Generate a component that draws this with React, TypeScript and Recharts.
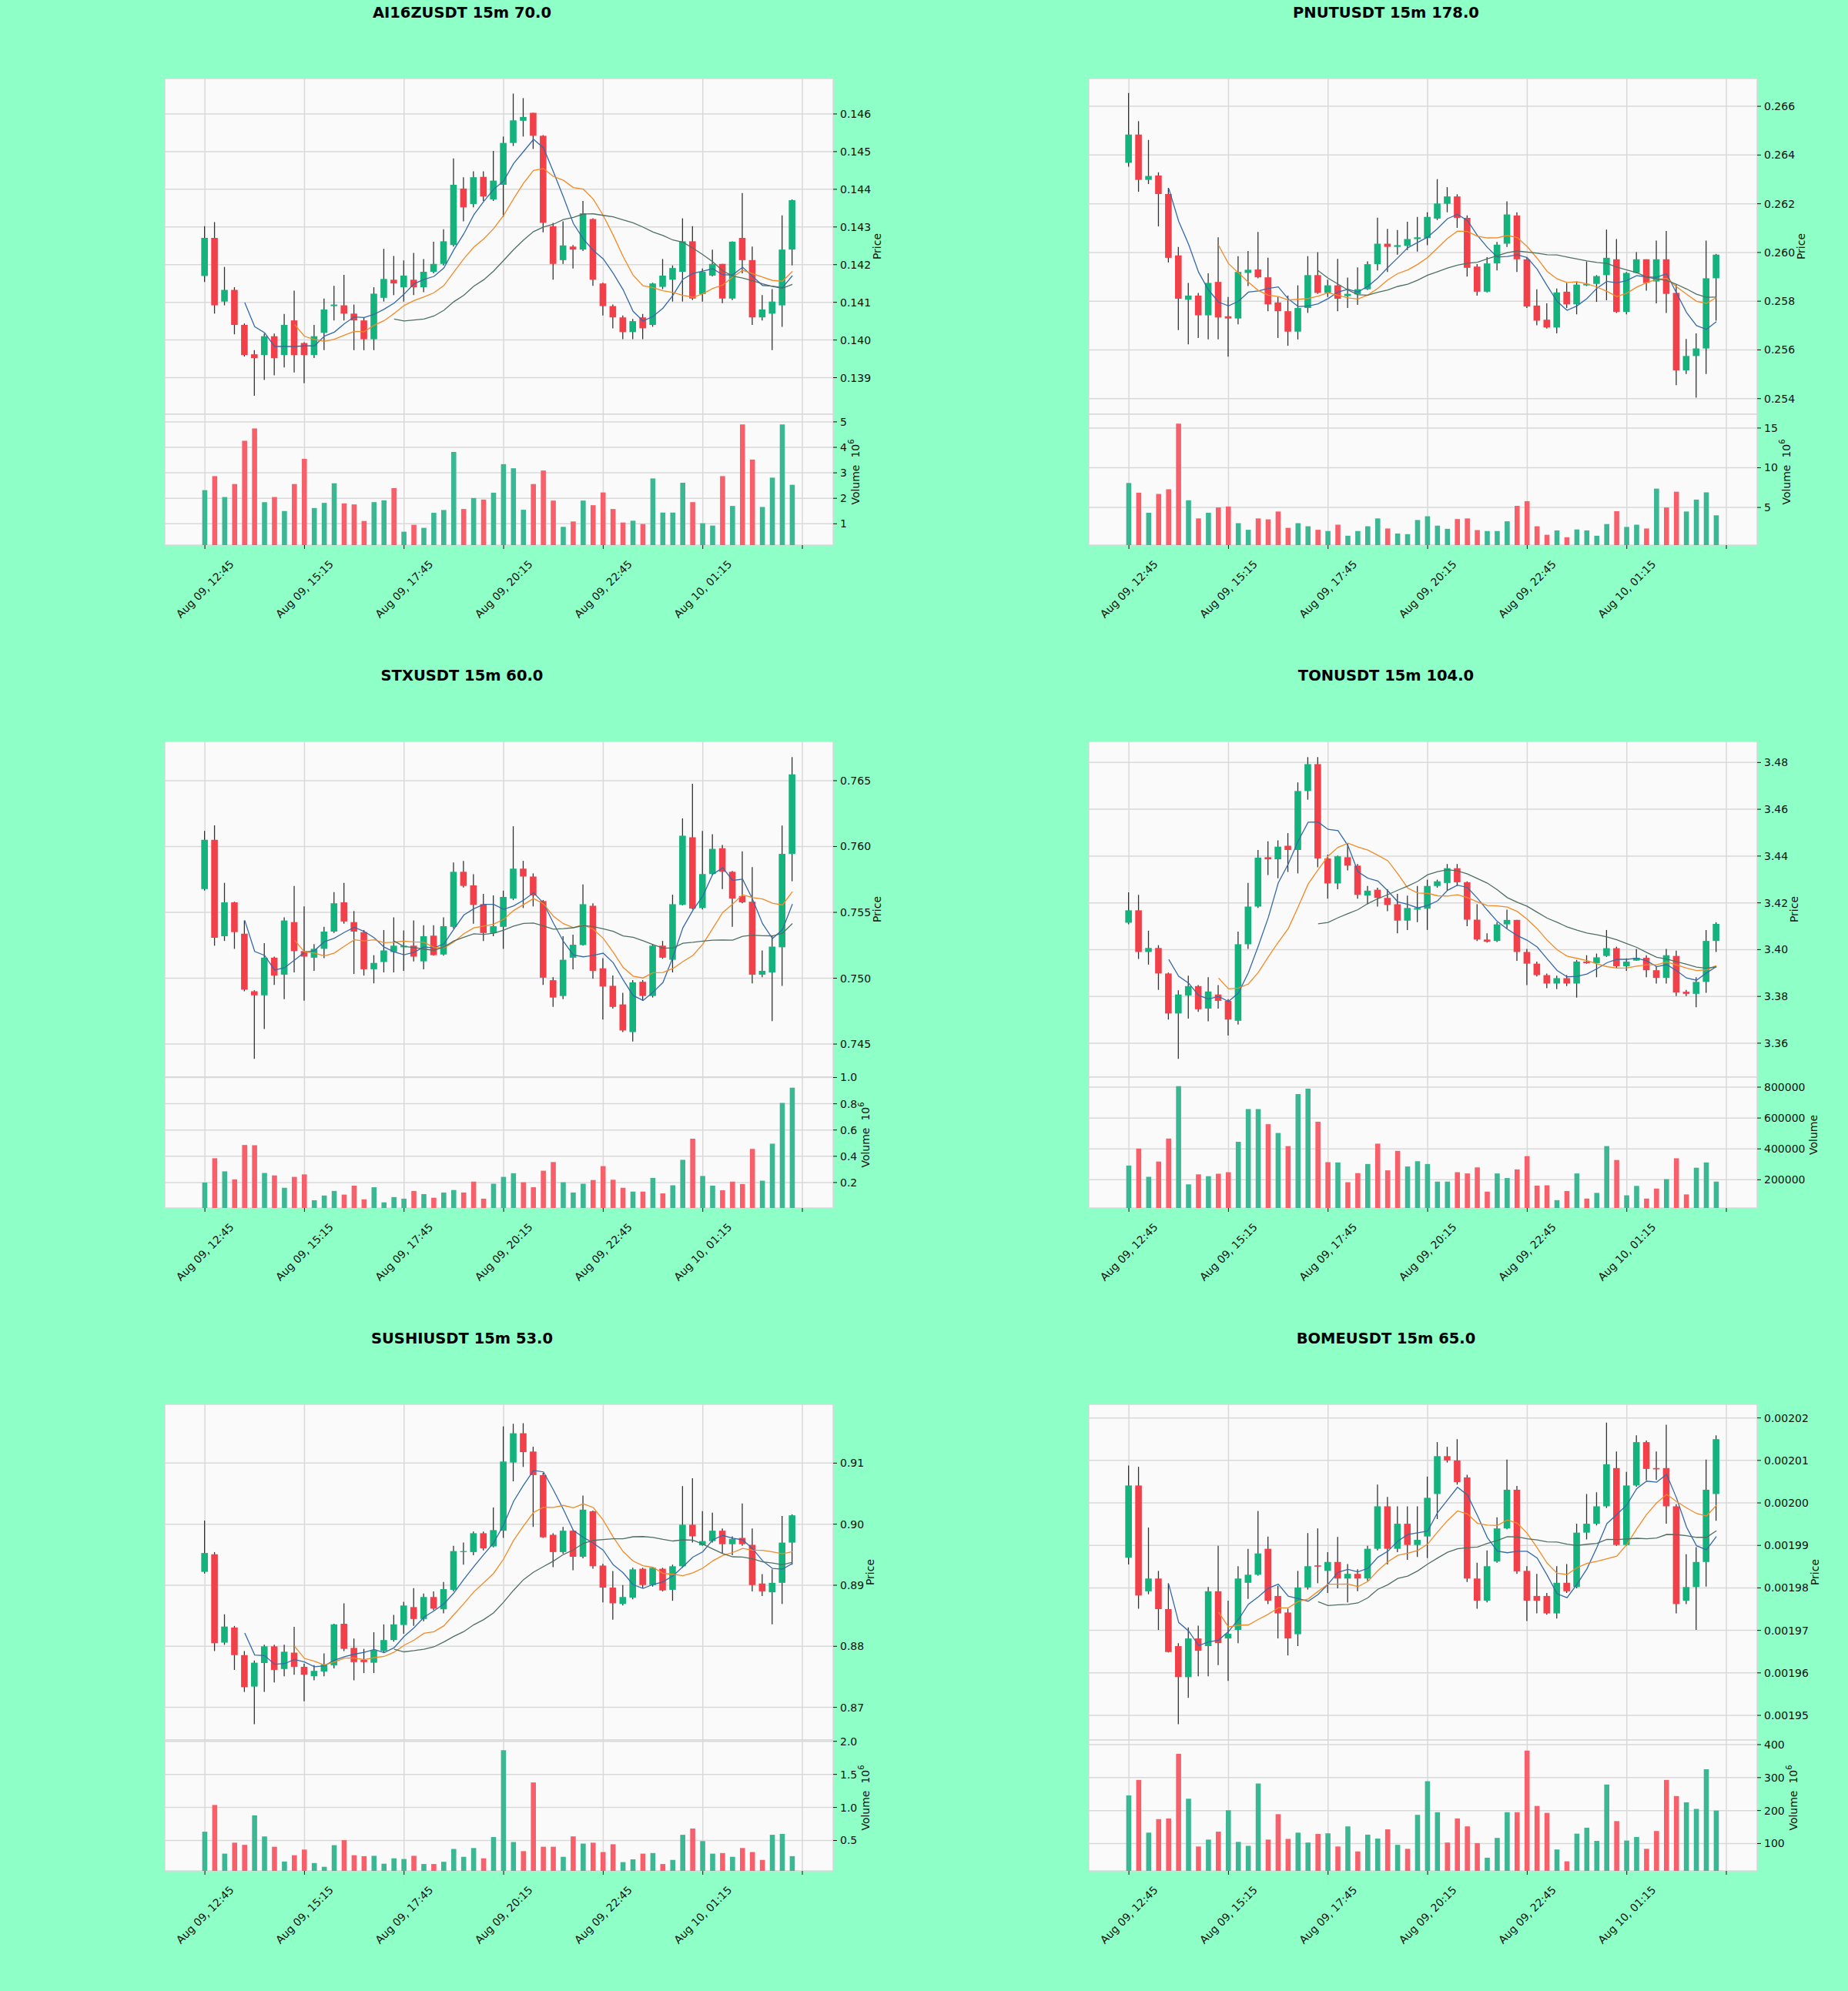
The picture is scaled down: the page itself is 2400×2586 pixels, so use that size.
import React from 'react';
import { ComposedChart, Bar, Line, XAxis, YAxis, CartesianGrid, Cell } from 'recharts';

const FONT = '"DejaVu Sans", sans-serif';
const BG = '#8effc6';
const PLOT_BG = '#fafafa';
const GRID = '#d9d9d9';
const UP = '#14b27c';
const DOWN = '#f2404a';
const VOL_UP = '#3bb893';
const VOL_DOWN = '#f7606b';
const WICK = '#333333';
const MA_PERIODS = [5, 10, 20];
const MA_COLORS = ['#3569a8', '#f28a26', '#4f6f63'];

// x axis: candle index, one tick every 10 candles (150 min)
const xTicks = [0, 10, 20, 30, 40, 50, 60];
const xTickLabels = ['Aug 09, 12:45', 'Aug 09, 15:15', 'Aug 09, 17:45', 'Aug 09, 20:15', 'Aug 09, 22:45', 'Aug 10, 01:15', ''];

// [open, high, low, close]
const ai16zOhlc = [
  [0.14170, 0.14302, 0.14154, 0.14271], [0.14271, 0.14313, 0.14070, 0.14092], [0.14102, 0.14194, 0.14092, 0.14133],
  [0.14133, 0.14140, 0.14015, 0.14040], [0.14040, 0.14044, 0.13956, 0.13960], [0.13962, 0.13973, 0.13852, 0.13952],
  [0.13960, 0.14017, 0.13894, 0.14010], [0.14010, 0.14017, 0.13906, 0.13952], [0.13960, 0.14069, 0.13927, 0.14040],
  [0.14052, 0.14131, 0.13914, 0.13960], [0.13992, 0.13994, 0.13885, 0.13960], [0.13960, 0.14040, 0.13952, 0.14010],
  [0.14019, 0.14110, 0.13973, 0.14081], [0.14090, 0.14144, 0.14052, 0.14094], [0.14092, 0.14173, 0.14052, 0.14070],
  [0.14070, 0.14094, 0.13973, 0.14052], [0.14052, 0.14060, 0.13973, 0.14002], [0.14002, 0.14140, 0.13973, 0.14123],
  [0.14112, 0.14242, 0.14102, 0.14162], [0.14160, 0.14223, 0.14119, 0.14150], [0.14140, 0.14211, 0.14102, 0.14171],
  [0.14160, 0.14231, 0.14119, 0.14140], [0.14140, 0.14215, 0.14127, 0.14181], [0.14181, 0.14261, 0.14177, 0.14202],
  [0.14202, 0.14294, 0.14198, 0.14262], [0.14252, 0.14482, 0.14248, 0.14412], [0.14402, 0.14432, 0.14315, 0.14352],
  [0.14361, 0.14448, 0.14352, 0.14432], [0.14433, 0.14448, 0.14369, 0.14381], [0.14373, 0.14502, 0.14369, 0.14423],
  [0.14412, 0.14540, 0.14327, 0.14523], [0.14523, 0.14654, 0.14515, 0.14583], [0.14582, 0.14642, 0.14540, 0.14592],
  [0.14603, 0.14603, 0.14507, 0.14542], [0.14542, 0.14544, 0.14286, 0.14311], [0.14302, 0.14311, 0.14160, 0.14202],
  [0.14212, 0.14315, 0.14202, 0.14251], [0.14248, 0.14252, 0.14190, 0.14240], [0.14240, 0.14369, 0.14236, 0.14336],
  [0.14321, 0.14323, 0.14144, 0.14160], [0.14150, 0.14152, 0.14065, 0.14090], [0.14090, 0.14094, 0.14031, 0.14060],
  [0.14060, 0.14065, 0.14002, 0.14021], [0.14021, 0.14056, 0.14002, 0.14050], [0.14060, 0.14069, 0.14002, 0.14031],
  [0.14040, 0.14152, 0.14035, 0.14150], [0.14141, 0.14215, 0.14135, 0.14171], [0.14160, 0.14198, 0.14102, 0.14191],
  [0.14181, 0.14323, 0.14102, 0.14262], [0.14262, 0.14302, 0.14106, 0.14110], [0.14122, 0.14190, 0.14102, 0.14181],
  [0.14171, 0.14240, 0.14169, 0.14202], [0.14202, 0.14202, 0.14098, 0.14110], [0.14110, 0.14262, 0.14106, 0.14261],
  [0.14271, 0.14390, 0.14177, 0.14212], [0.14212, 0.14248, 0.14040, 0.14060], [0.14060, 0.14119, 0.14052, 0.14081],
  [0.14070, 0.14135, 0.13973, 0.14102], [0.14092, 0.14331, 0.14035, 0.14240], [0.14240, 0.14373, 0.14198, 0.14371],
];
const ai16zVolume = [
  2.32, 2.87, 2.05, 2.56, 4.26, 4.74, 1.85, 2.05, 1.50, 2.56, 3.55, 1.62, 1.82, 2.59, 1.80, 1.76, 1.11, 1.85, 1.92, 2.40,
  0.69, 0.96, 0.84, 1.43, 1.54, 3.82, 1.58, 2.01, 1.95, 2.22, 3.34, 3.18, 1.55, 2.56, 3.09, 1.91, 0.88, 1.09, 1.91, 1.73,
  2.23, 1.58, 1.05, 1.12, 0.99, 2.78, 1.44, 1.44, 2.61, 1.85, 1.02, 0.93, 2.87, 1.70, 4.90, 3.52, 1.66, 2.81, 4.90, 2.53,
];
const ai16zPriceTicks = [0.139, 0.140, 0.141, 0.142, 0.143, 0.144, 0.145, 0.146];
const ai16zVolumeTicks = [1, 2, 3, 4, 5];

const pnutOhlc = [
  [0.26368, 0.26655, 0.26352, 0.26484], [0.26484, 0.26539, 0.26249, 0.26298], [0.26298, 0.26462, 0.26281, 0.26314],
  [0.26316, 0.26329, 0.26107, 0.26240], [0.26240, 0.26265, 0.25959, 0.25978], [0.25988, 0.26023, 0.25681, 0.25810],
  [0.25806, 0.25875, 0.25623, 0.25823], [0.25823, 0.25834, 0.25649, 0.25742], [0.25742, 0.25914, 0.25643, 0.25875],
  [0.25879, 0.26062, 0.25643, 0.25733], [0.25738, 0.25817, 0.25572, 0.25729], [0.25729, 0.25985, 0.25705, 0.25920],
  [0.25916, 0.26006, 0.25862, 0.25929], [0.25930, 0.26084, 0.25894, 0.25898], [0.25898, 0.25978, 0.25759, 0.25787],
  [0.25795, 0.25817, 0.25649, 0.25759], [0.25759, 0.25823, 0.25617, 0.25675], [0.25675, 0.25865, 0.25643, 0.25772],
  [0.25772, 0.25985, 0.25752, 0.25907], [0.25907, 0.26001, 0.25830, 0.25834], [0.25834, 0.25888, 0.25817, 0.25865],
  [0.25865, 0.25974, 0.25759, 0.25810], [0.25821, 0.25897, 0.25772, 0.25830], [0.25828, 0.25939, 0.25785, 0.25849],
  [0.25849, 0.25963, 0.25846, 0.25952], [0.25952, 0.26143, 0.25926, 0.26036], [0.26036, 0.26097, 0.25920, 0.26023],
  [0.26023, 0.26092, 0.25991, 0.26030], [0.26027, 0.26126, 0.26010, 0.26055], [0.26055, 0.26146, 0.26004, 0.26062],
  [0.26059, 0.26165, 0.26030, 0.26146], [0.26139, 0.26301, 0.26133, 0.26201], [0.26200, 0.26268, 0.26165, 0.26230],
  [0.26230, 0.26239, 0.26101, 0.26142], [0.26142, 0.26152, 0.25901, 0.25937], [0.25942, 0.25952, 0.25823, 0.25839],
  [0.25839, 0.25981, 0.25836, 0.25955], [0.25955, 0.26043, 0.25926, 0.26032], [0.26036, 0.26210, 0.26023, 0.26156],
  [0.26152, 0.26165, 0.25920, 0.25972], [0.25972, 0.25981, 0.25772, 0.25778], [0.25782, 0.25849, 0.25701, 0.25720],
  [0.25724, 0.25791, 0.25688, 0.25692], [0.25692, 0.25852, 0.25668, 0.25836], [0.25839, 0.25875, 0.25772, 0.25787],
  [0.25787, 0.25881, 0.25746, 0.25868], [0.25865, 0.25963, 0.25862, 0.25871], [0.25871, 0.25907, 0.25797, 0.25903],
  [0.25907, 0.26094, 0.25804, 0.25978], [0.25972, 0.26055, 0.25752, 0.25756], [0.25756, 0.25920, 0.25746, 0.25916],
  [0.25916, 0.26001, 0.25914, 0.25972], [0.25972, 0.25972, 0.25843, 0.25875], [0.25881, 0.26049, 0.25791, 0.25972],
  [0.25972, 0.26088, 0.25752, 0.25830], [0.25834, 0.25868, 0.25455, 0.25516], [0.25516, 0.25645, 0.25501, 0.25575],
  [0.25575, 0.25668, 0.25404, 0.25606], [0.25606, 0.26049, 0.25501, 0.25894], [0.25894, 0.25994, 0.25720, 0.25991],
];
const pnutVolume = [
  8.08, 6.86, 4.33, 6.70, 7.29, 15.55, 5.91, 3.62, 4.33, 5.00, 5.12, 3.02, 2.19, 3.62, 3.50, 4.49, 2.43, 3.02, 2.63, 2.19,
  2.03, 2.83, 1.44, 2.03, 2.63, 3.62, 2.35, 1.72, 1.64, 3.42, 3.89, 2.71, 2.31, 3.54, 3.62, 2.15, 2.03, 2.03, 3.26, 5.20,
  5.79, 2.63, 1.56, 2.11, 1.25, 2.23, 2.11, 1.44, 2.91, 4.53, 2.55, 2.83, 2.35, 7.37, 5.00, 6.98, 4.49, 5.99, 6.90, 4.01,
];
const pnutPriceTicks = [0.254, 0.256, 0.258, 0.260, 0.262, 0.264, 0.266];
const pnutVolumeTicks = [5, 10, 15];

const stxOhlc = [
  [0.75677, 0.76118, 0.75665, 0.76051], [0.76051, 0.76161, 0.75247, 0.75307], [0.75319, 0.75724, 0.75283, 0.75576],
  [0.75576, 0.75581, 0.75223, 0.75350], [0.75338, 0.75438, 0.74901, 0.74913], [0.74901, 0.74908, 0.74388, 0.74870],
  [0.74870, 0.75266, 0.74615, 0.75156], [0.75156, 0.75164, 0.74949, 0.75020], [0.75027, 0.75462, 0.74841, 0.75438],
  [0.75426, 0.75701, 0.75044, 0.75206], [0.75206, 0.75545, 0.74829, 0.75164], [0.75156, 0.75259, 0.75056, 0.75223],
  [0.75223, 0.75390, 0.75152, 0.75354], [0.75354, 0.75653, 0.75343, 0.75569], [0.75576, 0.75724, 0.75414, 0.75431],
  [0.75426, 0.75510, 0.75032, 0.75354], [0.75350, 0.75366, 0.75020, 0.75068], [0.75068, 0.75175, 0.74961, 0.75116],
  [0.75123, 0.75366, 0.75044, 0.75211], [0.75199, 0.75462, 0.75044, 0.75247], [0.75235, 0.75362, 0.75056, 0.75247],
  [0.75247, 0.75438, 0.75128, 0.75164], [0.75128, 0.75402, 0.75068, 0.75319], [0.75323, 0.75402, 0.75171, 0.75175],
  [0.75180, 0.75462, 0.75171, 0.75395], [0.75390, 0.75879, 0.75378, 0.75808], [0.75808, 0.75891, 0.75689, 0.75701],
  [0.75705, 0.75789, 0.75414, 0.75557], [0.75562, 0.75641, 0.75283, 0.75343], [0.75343, 0.75629, 0.75319, 0.75395],
  [0.75390, 0.75665, 0.75223, 0.75617], [0.75605, 0.76154, 0.75593, 0.75832], [0.75832, 0.75891, 0.75533, 0.75772],
  [0.75772, 0.75796, 0.75545, 0.75629], [0.75586, 0.75593, 0.74949, 0.75004], [0.74985, 0.75008, 0.74782, 0.74853],
  [0.74865, 0.75319, 0.74841, 0.75140], [0.75156, 0.75331, 0.75068, 0.75254], [0.75252, 0.75712, 0.75247, 0.75562],
  [0.75550, 0.75569, 0.74996, 0.75056], [0.75075, 0.75152, 0.74686, 0.74937], [0.74942, 0.75020, 0.74770, 0.74782],
  [0.74801, 0.74889, 0.74591, 0.74603], [0.74591, 0.74985, 0.74519, 0.74968], [0.74973, 0.74985, 0.74829, 0.74865],
  [0.74865, 0.75259, 0.74853, 0.75247], [0.75247, 0.75283, 0.75147, 0.75156], [0.75140, 0.75634, 0.75044, 0.75562],
  [0.75557, 0.76214, 0.75553, 0.76082], [0.76070, 0.76476, 0.75522, 0.75529], [0.75533, 0.76118, 0.75522, 0.75791],
  [0.75791, 0.76094, 0.75784, 0.75982], [0.75987, 0.76011, 0.75677, 0.75808], [0.75808, 0.75815, 0.75390, 0.75605],
  [0.75624, 0.75963, 0.75569, 0.75576], [0.75581, 0.75844, 0.74961, 0.75027], [0.75027, 0.75211, 0.75008, 0.75056],
  [0.75044, 0.75319, 0.74674, 0.75240], [0.75235, 0.76159, 0.74942, 0.75944], [0.75944, 0.76679, 0.75736, 0.76548],
];
const stxVolume = [
  0.200, 0.385, 0.285, 0.224, 0.486, 0.484, 0.273, 0.254, 0.160, 0.243, 0.262, 0.065, 0.101, 0.136, 0.108, 0.176, 0.072,
  0.164, 0.049, 0.089, 0.077, 0.136, 0.112, 0.084, 0.124, 0.143, 0.124, 0.207, 0.077, 0.191, 0.243, 0.271, 0.202, 0.164,
  0.290, 0.356, 0.202, 0.124, 0.191, 0.219, 0.325, 0.221, 0.160, 0.131, 0.131, 0.235, 0.117, 0.179, 0.373, 0.534, 0.250,
  0.176, 0.141, 0.207, 0.188, 0.456, 0.214, 0.496, 0.806, 0.922,
];
const stxPriceTicks = [0.745, 0.750, 0.755, 0.760, 0.765];
const stxVolumeTicks = [0.2, 0.4, 0.6, 0.8, 1.0];

const tonOhlc = [
  [3.4115, 3.4245, 3.4108, 3.4168], [3.4168, 3.4234, 3.3960, 3.3990], [3.3990, 3.4081, 3.3936, 3.4007],
  [3.4007, 3.4019, 3.3828, 3.3898], [3.3898, 3.3902, 3.3701, 3.3727], [3.3727, 3.3826, 3.3533, 3.3808],
  [3.3804, 3.3889, 3.3705, 3.3844], [3.3844, 3.3848, 3.3734, 3.3745], [3.3748, 3.3882, 3.3694, 3.3821],
  [3.3808, 3.3848, 3.3748, 3.3781], [3.3781, 3.3788, 3.3633, 3.3701], [3.3696, 3.4077, 3.3680, 3.4023],
  [3.4023, 3.4285, 3.4003, 3.4184], [3.4184, 3.4426, 3.4178, 3.4393], [3.4395, 3.4463, 3.4319, 3.4386],
  [3.4386, 3.4467, 3.4305, 3.4440], [3.4444, 3.4498, 3.4332, 3.4426], [3.4426, 3.4715, 3.4326, 3.4678],
  [3.4678, 3.4823, 3.4641, 3.4793], [3.4793, 3.4823, 3.4352, 3.4390], [3.4390, 3.4406, 3.4218, 3.4283],
  [3.4283, 3.4402, 3.4258, 3.4399], [3.4395, 3.4453, 3.4339, 3.4359], [3.4359, 3.4366, 3.4218, 3.4234],
  [3.4231, 3.4272, 3.4194, 3.4252], [3.4256, 3.4265, 3.4184, 3.4221], [3.4221, 3.4258, 3.4164, 3.4191],
  [3.4194, 3.4238, 3.4070, 3.4124], [3.4124, 3.4231, 3.4084, 3.4178], [3.4171, 3.4272, 3.4117, 3.4178],
  [3.4175, 3.4299, 3.4084, 3.4272], [3.4272, 3.4299, 3.4265, 3.4292], [3.4285, 3.4366, 3.4252, 3.4348],
  [3.4348, 3.4366, 3.4272, 3.4288], [3.4288, 3.4292, 3.4100, 3.4128], [3.4128, 3.4194, 3.4037, 3.4043],
  [3.4043, 3.4070, 3.4030, 3.4034], [3.4037, 3.4117, 3.4033, 3.4108], [3.4108, 3.4171, 3.4090, 3.4127],
  [3.4127, 3.4127, 3.3952, 3.3990], [3.3990, 3.4003, 3.3848, 3.3940], [3.3940, 3.3949, 3.3885, 3.3891],
  [3.3891, 3.3898, 3.3835, 3.3855], [3.3855, 3.3889, 3.3831, 3.3878], [3.3878, 3.3891, 3.3844, 3.3855],
  [3.3855, 3.3956, 3.3795, 3.3949], [3.3949, 3.3976, 3.3940, 3.3942], [3.3942, 3.3983, 3.3882, 3.3967],
  [3.3973, 3.4084, 3.3969, 3.4006], [3.4006, 3.4012, 3.3922, 3.3929], [3.3929, 3.3963, 3.3909, 3.3949],
  [3.3953, 3.4003, 3.3952, 3.3965], [3.3965, 3.3976, 3.3882, 3.3912], [3.3912, 3.3929, 3.3855, 3.3879],
  [3.3879, 3.4003, 3.3855, 3.3976], [3.3973, 3.3996, 3.3801, 3.3817], [3.3820, 3.3828, 3.3801, 3.3811],
  [3.3811, 3.3882, 3.3754, 3.3862], [3.3862, 3.4084, 3.3815, 3.4037], [3.4037, 3.4117, 3.3990, 3.4110],
];
const tonVolume = [
  292000, 402000, 219000, 318000, 467000, 806000, 170000, 235000, 223000, 239000, 249000, 446000, 658000, 658000, 560000,
  503000, 418000, 755000, 790000, 576000, 314000, 312000, 184000, 243000, 302000, 434000, 261000, 387000, 286000, 320000,
  302000, 188000, 188000, 249000, 241000, 280000, 123000, 241000, 211000, 267000, 353000, 162000, 164000, 68000, 127000,
  241000, 78000, 115000, 418000, 328000, 99000, 160000, 78000, 143000, 204000, 339000, 105000, 278000, 312000, 188000,
];
const tonPriceTicks = [3.36, 3.38, 3.40, 3.42, 3.44, 3.46, 3.48];
const tonVolumeTicks = [200000, 400000, 600000, 800000];

const sushiOhlc = [
  [0.89219, 0.90058, 0.89193, 0.89528], [0.89507, 0.89543, 0.87922, 0.88050], [0.88060, 0.88524, 0.88024, 0.88323],
  [0.88308, 0.88333, 0.87613, 0.87855], [0.87855, 0.87922, 0.87252, 0.87330], [0.87340, 0.87767, 0.86722, 0.87731],
  [0.87726, 0.88024, 0.87252, 0.87999], [0.87999, 0.88024, 0.87407, 0.87613], [0.87628, 0.88024, 0.87510, 0.87911],
  [0.87896, 0.88318, 0.87535, 0.87664], [0.87664, 0.87716, 0.87098, 0.87535], [0.87510, 0.87690, 0.87443, 0.87597],
  [0.87587, 0.87885, 0.87510, 0.87700], [0.87690, 0.88369, 0.87638, 0.88359], [0.88369, 0.88704, 0.87922, 0.87958],
  [0.87973, 0.88127, 0.87443, 0.87741], [0.87777, 0.87958, 0.87561, 0.87741], [0.87731, 0.88230, 0.87561, 0.87937],
  [0.87922, 0.88359, 0.87896, 0.88102], [0.88102, 0.88514, 0.88076, 0.88359], [0.88349, 0.88730, 0.88205, 0.88668],
  [0.88642, 0.88951, 0.88333, 0.88447], [0.88447, 0.88864, 0.88411, 0.88807], [0.88807, 0.88900, 0.88591, 0.88617],
  [0.88606, 0.89054, 0.88539, 0.88936], [0.88925, 0.89646, 0.88900, 0.89559], [0.89543, 0.89698, 0.89337, 0.89559],
  [0.89543, 0.89878, 0.89492, 0.89852], [0.89852, 0.89878, 0.89569, 0.89605], [0.89636, 0.90274, 0.89620, 0.89903],
  [0.89893, 0.91602, 0.89775, 0.91026], [0.91010, 0.91644, 0.90701, 0.91489], [0.91489, 0.91654, 0.90938, 0.91180],
  [0.91190, 0.91268, 0.89955, 0.90804], [0.90804, 0.90840, 0.89775, 0.89785], [0.89826, 0.89852, 0.89296, 0.89543],
  [0.89543, 0.89955, 0.89517, 0.89893], [0.89893, 0.89903, 0.89245, 0.89466], [0.89466, 0.90470, 0.89440, 0.90238],
  [0.90212, 0.90223, 0.89270, 0.89311], [0.89322, 0.89348, 0.88719, 0.88961], [0.88961, 0.89234, 0.88436, 0.88704],
  [0.88694, 0.89003, 0.88668, 0.88807], [0.88797, 0.89286, 0.88771, 0.89260], [0.89270, 0.89286, 0.88951, 0.89003],
  [0.89003, 0.89296, 0.88977, 0.89286], [0.89270, 0.89286, 0.88900, 0.88915], [0.88925, 0.89337, 0.88745, 0.89311],
  [0.89311, 0.90624, 0.89286, 0.89991], [0.89991, 0.90753, 0.89698, 0.89801], [0.89656, 0.90212, 0.89646, 0.89723],
  [0.89723, 0.90187, 0.89698, 0.89893], [0.89893, 0.89929, 0.89517, 0.89672], [0.89672, 0.89801, 0.89492, 0.89759],
  [0.89775, 0.90341, 0.89646, 0.89672], [0.89662, 0.89929, 0.88900, 0.89003], [0.89028, 0.89183, 0.88822, 0.88900],
  [0.88884, 0.89260, 0.88359, 0.89039], [0.89039, 0.90135, 0.88694, 0.89698], [0.89698, 0.90161, 0.89337, 0.90145],
];
const sushiVolume = [
  0.633, 1.037, 0.301, 0.467, 0.434, 0.880, 0.562, 0.405, 0.182, 0.277, 0.363, 0.159, 0.102, 0.429, 0.505, 0.277, 0.263,
  0.268, 0.149, 0.230, 0.220, 0.268, 0.144, 0.144, 0.178, 0.372, 0.253, 0.386, 0.230, 0.552, 1.867, 0.477, 0.339, 1.378,
  0.405, 0.405, 0.253, 0.562, 0.453, 0.467, 0.325, 0.443, 0.173, 0.215, 0.301, 0.310, 0.144, 0.206, 0.586, 0.681, 0.491,
  0.301, 0.310, 0.253, 0.386, 0.325, 0.206, 0.586, 0.600, 0.263,
];
const sushiPriceTicks = [0.87, 0.88, 0.89, 0.90, 0.91];
const sushiVolumeTicks = [0.5, 1.0, 1.5, 2.0];

const bomeOhlc = [
  [0.0019871, 0.0020088, 0.0019855, 0.0020041], [0.0020041, 0.0020085, 0.0019751, 0.0019782], [0.0019792, 0.0019942, 0.0019785, 0.0019822],
  [0.0019822, 0.0019840, 0.0019701, 0.0019750], [0.0019750, 0.0019811, 0.0019648, 0.0019649], [0.0019663, 0.0019670, 0.0019479, 0.0019590],
  [0.0019590, 0.0019707, 0.0019541, 0.0019681], [0.0019681, 0.0019711, 0.0019592, 0.0019652], [0.0019663, 0.0019802, 0.0019592, 0.0019792],
  [0.0019792, 0.0019899, 0.0019618, 0.0019670], [0.0019681, 0.0019770, 0.0019581, 0.0019692], [0.0019701, 0.0019851, 0.0019670, 0.0019822],
  [0.0019812, 0.0019892, 0.0019774, 0.0019831], [0.0019831, 0.0019981, 0.0019829, 0.0019881], [0.0019892, 0.0019921, 0.0019762, 0.0019770],
  [0.0019781, 0.0019805, 0.0019681, 0.0019740], [0.0019742, 0.0019751, 0.0019641, 0.0019681], [0.0019691, 0.0019840, 0.0019663, 0.0019801],
  [0.0019801, 0.0019929, 0.0019796, 0.0019851], [0.0019853, 0.0019940, 0.0019811, 0.0019850], [0.0019840, 0.0019884, 0.0019788, 0.0019861],
  [0.0019861, 0.0019920, 0.0019799, 0.0019822], [0.0019822, 0.0019856, 0.0019766, 0.0019833], [0.0019833, 0.0019844, 0.0019792, 0.0019822],
  [0.0019822, 0.0019899, 0.0019816, 0.0019892], [0.0019892, 0.0020043, 0.0019888, 0.0019992], [0.0019992, 0.0020014, 0.0019855, 0.0019892],
  [0.0019892, 0.0019992, 0.0019884, 0.0019951], [0.0019951, 0.0019992, 0.0019866, 0.0019901], [0.0019901, 0.0019992, 0.0019873, 0.0019913],
  [0.0019921, 0.0020062, 0.0019870, 0.0020012], [0.0020021, 0.0020143, 0.0019962, 0.0020110], [0.0020110, 0.0020132, 0.0020095, 0.0020100],
  [0.0020100, 0.0020150, 0.0020043, 0.0020049], [0.0020060, 0.0020066, 0.0019814, 0.0019822], [0.0019822, 0.0019859, 0.0019751, 0.0019770],
  [0.0019770, 0.0019888, 0.0019766, 0.0019851], [0.0019862, 0.0019966, 0.0019859, 0.0019940], [0.0019940, 0.0020102, 0.0019938, 0.0020031],
  [0.0020031, 0.0020040, 0.0019833, 0.0019839], [0.0019840, 0.0019851, 0.0019722, 0.0019770], [0.0019781, 0.0019833, 0.0019740, 0.0019770],
  [0.0019781, 0.0019788, 0.0019737, 0.0019740], [0.0019740, 0.0019851, 0.0019728, 0.0019812], [0.0019812, 0.0019856, 0.0019788, 0.0019792],
  [0.0019802, 0.0019951, 0.0019799, 0.0019930], [0.0019930, 0.0020021, 0.0019914, 0.0019951], [0.0019951, 0.0020025, 0.0019947, 0.0019992],
  [0.0019992, 0.0020189, 0.0019988, 0.0020091], [0.0020082, 0.0020121, 0.0019899, 0.0019901], [0.0019901, 0.0020073, 0.0019899, 0.0020041],
  [0.0020041, 0.0020159, 0.0020038, 0.0020143], [0.0020143, 0.0020147, 0.0020053, 0.0020080], [0.0020082, 0.0020121, 0.0020054, 0.0020079],
  [0.0020082, 0.0020184, 0.0019951, 0.0019992], [0.0019992, 0.0019997, 0.0019740, 0.0019762], [0.0019770, 0.0019879, 0.0019762, 0.0019802],
  [0.0019802, 0.0019896, 0.0019701, 0.0019861], [0.0019861, 0.0020102, 0.0019803, 0.0020031], [0.0020021, 0.0020159, 0.0019958, 0.0020150],
];
const bomeVolume = [
  246, 293, 133, 174, 176, 372, 236, 91, 112, 136, 201, 105, 93, 282, 112, 189, 114, 133, 103, 129,
  131, 91, 152, 76, 127, 115, 143, 96, 84, 187, 289, 195, 103, 176, 152, 101, 57, 117, 195, 195,
  382, 214, 193, 82, 46, 130, 148, 108, 279, 168, 109, 120, 84, 138, 293, 244, 225, 205, 325, 200,
];
const bomePriceTicks = [0.00195, 0.00196, 0.00197, 0.00198, 0.00199, 0.00200, 0.00201, 0.00202];
const bomeVolumeTicks = [100, 200, 300, 400];

type PanelSpec = {
  title: string;
  ohlc: number[][];
  volume: number[];
  priceTicks: number[];
  priceDomain: [number, number];
  priceDigits: number;
  volumeTicks: number[];
  volumeDomain: [number, number];
  volumeDigits: number;
  volumeLabel: string;
  volumeExp: string;
};

const panels: PanelSpec[] = [
  { title: 'AI16ZUSDT 15m 70.0', ohlc: ai16zOhlc, volume: ai16zVolume, priceTicks: ai16zPriceTicks, priceDomain: [0.13803, 0.14694], priceDigits: 3, volumeTicks: ai16zVolumeTicks, volumeDomain: [0.163, 5.3], volumeDigits: 0, volumeLabel: 'Volume', volumeExp: '6' },
  { title: 'PNUTUSDT 15m 178.0', ohlc: pnutOhlc, volume: pnutVolume, priceTicks: pnutPriceTicks, priceDomain: [0.25336, 0.26714], priceDigits: 3, volumeTicks: pnutVolumeTicks, volumeDomain: [0.26, 16.74], volumeDigits: 0, volumeLabel: 'Volume', volumeExp: '6' },
  { title: 'STXUSDT 15m 60.0', ohlc: stxOhlc, volume: stxVolume, priceTicks: stxPriceTicks, priceDomain: [0.74249, 0.76798], priceDigits: 3, volumeTicks: stxVolumeTicks, volumeDomain: [0.006, 1.003], volumeDigits: 1, volumeLabel: 'Volume', volumeExp: '6' },
  { title: 'TONUSDT 15m 104.0', ohlc: tonOhlc, volume: tonVolume, priceTicks: tonPriceTicks, priceDomain: [3.3455, 3.489], priceDigits: 2, volumeTicks: tonVolumeTicks, volumeDomain: [17000, 865000], volumeDigits: 0, volumeLabel: 'Volume', volumeExp: '' },
  { title: 'SUSHIUSDT 15m 53.0', ohlc: sushiOhlc, volume: sushiVolume, priceTicks: sushiPriceTicks, priceDomain: [0.86465, 0.91963], priceDigits: 2, volumeTicks: sushiVolumeTicks, volumeDomain: [0.04, 2.02], volumeDigits: 1, volumeLabel: 'Volume', volumeExp: '6' },
  { title: 'BOMEUSDT 15m 65.0', ohlc: bomeOhlc, volume: bomeVolume, priceTicks: bomePriceTicks, priceDomain: [0.0019442, 0.0020232], priceDigits: 5, volumeTicks: bomeVolumeTicks, volumeDomain: [17, 414], volumeDigits: 0, volumeLabel: 'Volume', volumeExp: '6' },
];

// layout
const X_DOMAIN: [number, number] = [-4.03, 63.09];
const PLOT_LEFT = 214;
const COL_STEP = 1200;
const ROW_TOP = 102;
const ROW_STEP = 861;
const PLOT_W = 868;
const PRICE_H = 436;
const VOL_H = 170;
const VOL_PAD = 14; // room above the volume panel for its top tick label
const AXIS_W = 170;
const XAXIS_H = 110;

const tickStyle = { fill: '#111', fontSize: 14, fontFamily: FONT };
const textWidth = (s: string) => [...s].reduce((w, ch) => w + (ch === '.' ? 4.45 : 8.9), 0);

const movingAverage = (values: number[], n: number) =>
  values.map((_, i) => (i < n - 1 ? null : values.slice(i - n + 1, i + 1).reduce((a, b) => a + b, 0) / n));

const Candle = (props: any) => {
  const { x, y, width, height, payload } = props;
  if (x == null || y == null || !payload) return null;
  const { o, h, l, c } = payload;
  const top = Math.min(y, y + height);
  const span = Math.abs(height);
  const toY = (v: number) => (h === l ? top : top + ((h - v) / (h - l)) * span);
  const cx = x + width / 2;
  const bodyTop = toY(Math.max(o, c));
  const bodyBottom = toY(Math.min(o, c));
  const bw = 8.6;
  return (
    <g>
      <line x1={cx} x2={cx} y1={top} y2={top + span} stroke={WICK} strokeWidth={1.3} />
      <rect x={cx - bw / 2} y={bodyTop} width={bw} height={Math.max(bodyBottom - bodyTop, 1.2)} fill={c > o ? UP : DOWN} />
    </g>
  );
};

const DateTick = (props: any) => {
  const { x, y, payload } = props;
  const label = xTickLabels[xTicks.indexOf(payload.value)] ?? '';
  const cy = y + 50;
  return (
    <text x={x} y={cy} transform={`rotate(-45 ${x} ${cy})`} textAnchor="middle" dominantBaseline="central" {...tickStyle}>
      {label}
    </text>
  );
};

const CandlePanel = ({ spec, col, row }: { spec: PanelSpec; col: number; row: number }) => {
  const closes = spec.ohlc.map((d) => d[3]);
  const mas = MA_PERIODS.map((n) => movingAverage(closes, n));
  const rows = spec.ohlc.map((d, i) => ({
    i,
    o: d[0],
    h: d[1],
    l: d[2],
    c: d[3],
    range: [d[2], d[1]],
    ma0: mas[0][i],
    ma1: mas[1][i],
    ma2: mas[2][i],
    vol: spec.volume[i],
  }));
  const left = PLOT_LEFT + col * COL_STEP;
  const top = ROW_TOP + row * ROW_STEP;
  const priceFmt = (v: number) => v.toFixed(spec.priceDigits);
  const volFmt = (v: number) => v.toFixed(spec.volumeDigits);
  const priceLabelX = PLOT_W + 9 + Math.max(...spec.priceTicks.map((t) => textWidth(priceFmt(t)))) + 8;
  const volLabelX = PLOT_W + 9 + Math.max(...spec.volumeTicks.map((t) => textWidth(volFmt(t)))) + 11;
  const titleX = 600 + col * COL_STEP - left;
  const volMidY = top + PRICE_H + VOL_H / 2 - 10;

  return (
    <div style={{ position: 'absolute', left, top, width: PLOT_W + AXIS_W, height: PRICE_H + VOL_H + XAXIS_H }}>
      <div style={{ position: 'absolute', left: 0, top: 0 }}>
        <ComposedChart width={PLOT_W + AXIS_W} height={PRICE_H} data={rows} margin={{ top: 0, right: 0, bottom: 0, left: 0 }}>
          <CartesianGrid fill={PLOT_BG} stroke={GRID} strokeWidth={1.5} />
          <XAxis dataKey="i" type="number" domain={X_DOMAIN} ticks={xTicks} allowDataOverflow hide />
          <YAxis
            orientation="right"
            type="number"
            domain={spec.priceDomain}
            ticks={spec.priceTicks}
            allowDataOverflow
            width={AXIS_W}
            axisLine={false}
            tickLine={{ stroke: '#111' }}
            tickSize={5}
            tickMargin={4}
            tick={tickStyle}
            tickFormatter={priceFmt}
            interval={0}
          />
          <Bar dataKey="range" barSize={10} shape={<Candle />} isAnimationActive={false} />
          {MA_PERIODS.map((n, k) => (
            <Line
              key={n}
              type="linear"
              dataKey={`ma${k}`}
              stroke={MA_COLORS[k]}
              strokeWidth={1.3}
              dot={false}
              activeDot={false}
              connectNulls={false}
              isAnimationActive={false}
            />
          ))}
        </ComposedChart>
      </div>
      <div style={{ position: 'absolute', left: 0, top: PRICE_H - VOL_PAD }}>
        <ComposedChart
          width={PLOT_W + AXIS_W}
          height={VOL_PAD + VOL_H + XAXIS_H}
          data={rows}
          margin={{ top: VOL_PAD, right: 0, bottom: 0, left: 0 }}
        >
          <CartesianGrid fill={PLOT_BG} stroke={GRID} strokeWidth={1.5} />
          <XAxis
            dataKey="i"
            type="number"
            domain={X_DOMAIN}
            ticks={xTicks}
            allowDataOverflow
            height={XAXIS_H}
            axisLine={false}
            tickLine={{ stroke: '#111' }}
            tickSize={5}
            tick={<DateTick />}
            interval={0}
          />
          <YAxis
            orientation="right"
            type="number"
            domain={spec.volumeDomain}
            ticks={spec.volumeTicks}
            allowDataOverflow
            width={AXIS_W}
            axisLine={false}
            tickLine={{ stroke: '#111' }}
            tickSize={5}
            tickMargin={4}
            tick={tickStyle}
            tickFormatter={volFmt}
            interval={0}
          />
          <Bar dataKey="vol" barSize={6.6} isAnimationActive={false}>
            {rows.map((r) => (
              <Cell key={r.i} fill={r.c > r.o ? VOL_UP : VOL_DOWN} />
            ))}
          </Bar>
        </ComposedChart>
      </div>
      <svg
        width={PLOT_W + AXIS_W + 400}
        height={PRICE_H + VOL_H + 120}
        style={{ position: 'absolute', left: 0, top: -top, overflow: 'visible', pointerEvents: 'none' }}
      >
        <text x={titleX} y={16 + row * ROW_STEP} textAnchor="middle" dominantBaseline="central" fontFamily={FONT} fontWeight="bold" fontSize={19.5} fill="#000">
          {spec.title}
        </text>
        <text
          x={priceLabelX}
          y={top + PRICE_H / 2}
          transform={`rotate(-90 ${priceLabelX} ${top + PRICE_H / 2})`}
          textAnchor="middle"
          dominantBaseline="central"
          {...tickStyle}
        >
          Price
        </text>
        <text
          x={volLabelX}
          y={volMidY}
          transform={`rotate(-90 ${volLabelX} ${volMidY})`}
          textAnchor="middle"
          dominantBaseline="central"
          {...tickStyle}
        >
          {spec.volumeLabel}
          {spec.volumeExp ? '\u00a0\u00a010' : ''}
          {spec.volumeExp ? (
            <tspan dy={-6} fontSize={10}>
              {spec.volumeExp}
            </tspan>
          ) : null}
        </text>
      </svg>
    </div>
  );
};

const App = () => (
  <div style={{ position: 'absolute', left: 0, top: 0, width: 2400, height: 2586, background: BG, overflow: 'hidden' }}>
    {panels.map((spec, k) => (
      <CandlePanel key={spec.title} spec={spec} col={k % 2} row={Math.floor(k / 2)} />
    ))}
  </div>
);

export default App;
